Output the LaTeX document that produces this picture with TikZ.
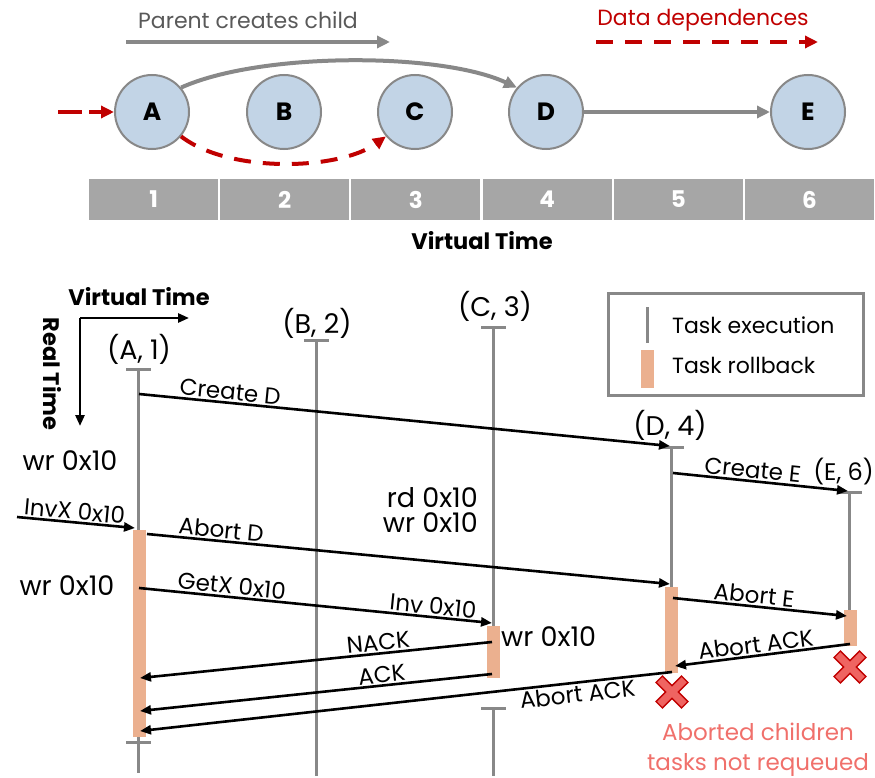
\documentclass[tikz,border=0pt]{standalone}
\usepackage{fontspec}
\setmainfont{Poppins}
\usetikzlibrary{arrows.meta}
\definecolor{lgray}{HTML}{888888}
\definecolor{dgray}{HTML}{595959}
\definecolor{cfill}{HTML}{C2D4E6}
\definecolor{rb}{HTML}{EBB08F}
\definecolor{dred}{HTML}{C00000}
\definecolor{xfill}{HTML}{EF6461}
\definecolor{salmon}{HTML}{F0706B}
\definecolor{barg}{HTML}{A6A6A6}
\tikzset{
  circ/.style={circle, draw=lgray, line width=2pt, fill=cfill, minimum size=74pt, inner sep=0pt, font=\fontsize{25}{27}\selectfont\bfseries},
  cell/.style={rectangle, fill=barg, draw=white, line width=2pt, minimum width=131pt, minimum height=43pt, inner sep=0pt, text=white, font=\fontsize{23}{25}\selectfont\bfseries},
  garrow/.style={draw=lgray, line width=4pt, -{Triangle[length=13pt,width=12pt]}},
  rarrow/.style={draw=dred, line width=4pt, dash pattern=on 17pt off 12pt, -{Triangle[length=13pt,width=12pt]}},
  life/.style={draw=lgray, line width=3pt},
  msg/.style={draw=black, line width=2.6pt, -{Triangle[length=11pt,width=9pt]}},
  lbl/.style={font=\fontsize{23}{25}\selectfont, sloped, inner sep=1.5pt},
  txt/.style={font=\fontsize{22}{24}\selectfont, inner sep=0pt},
  htxt/.style={font=\fontsize{27}{29}\selectfont, inner sep=0pt},
  btxt/.style={font=\fontsize{22.5}{24}\selectfont\bfseries, inner sep=0pt},
  xmark/.pic={\draw[fill=xfill, draw=dred, line width=1.3pt, rotate=45] (4.5,4.5) -- (4.5,18) -- (-4.5,18) -- (-4.5,4.5) -- (-18,4.5) -- (-18,-4.5) -- (-4.5,-4.5) -- (-4.5,-18) -- (4.5,-18) -- (4.5,-4.5) -- (18,-4.5) -- (18,4.5) -- cycle;}
}
\begin{document}
\begin{tikzpicture}[x=1pt,y=-1pt]
\useasboundingbox (0,0) rectangle (875,778);
% ---------- top legend ----------
\node[txt, text=dgray] (pcc) at (248,20) {Parent creates child};
\coordinate (pcs) at (126,42); \coordinate (pce) at (390,42);
\draw[garrow] (pcs) -- (pce);
\node[txt, text=dred] (dd) at (703,20) {Data dependences};
\coordinate (dds) at (596,42); \coordinate (dde) at (818,42);
\draw[rarrow] (dds) -- (dde);
% ---------- task graph ----------
\node[circ] (A) at (152,112) {A};
\node[circ] (B) at (284,112) {B};
\node[circ] (C) at (415,112) {C};
\node[circ] (D) at (546,112) {D};
\node[circ] (E) at (808,112) {E};
\coordinate (in) at (58,112);
\draw[rarrow, dash pattern=on 24pt off 7pt] (in) -- (A.west);
\draw[garrow] (A.40) .. controls (260,52) and (440,52) .. (D.140);
\draw[garrow] (D.east) -- (E.west);
\draw[rarrow] (A.-40) .. controls (230,174) and (340,170) .. (C.-140);
% ---------- time bar ----------
\node[cell] (t1) at (153.6,199.5) {1};
\node[cell] (t2) at (284.8,199.5) {2};
\node[cell] (t3) at (415.9,199.5) {3};
\node[cell] (t4) at (547.1,199.5) {4};
\node[cell] (t5) at (678.3,199.5) {5};
\node[cell] (t6) at (809.4,199.5) {6};
\node[btxt] (vt1) at (482,241) {Virtual Time};
% ---------- axes ----------
\node[btxt] (vt2) at (139,297) {Virtual Time};
\coordinate (ax) at (80,318); \coordinate (axh) at (189,318); \coordinate (axv) at (80,426);
\draw[msg] (ax) -- (axh);
\draw[msg] (ax) -- (axv);
\node[btxt, rotate=-90] (rt) at (52,374) {Real Time};
% ---------- legend ----------
\draw[draw=lgray, line width=3pt] (608,293) rectangle (863,395);
\draw[life] (647,307) -- (647,343);
\fill[rb] (641,350) rectangle (654,388);
\node[txt, anchor=west] (le1) at (672,325) {Task execution};
\node[txt, anchor=west] (le2) at (672,365) {Task rollback};
% ---------- lifelines ----------
\node[htxt] (la) at (139,349) {(A, 1)};
\node[htxt] (lb) at (317,323) {(B, 2)};
\node[htxt] (lc) at (495,306) {(C, 3)};
\node[htxt] (ld) at (670,425) {(D, 4)};
\node[htxt, font=\fontsize{24}{26}\selectfont, anchor=east] (le) at (874,472) {(E, 6)};
% A
\draw[life] (126,369) -- (151,369);
\draw[life] (138.5,369) -- (138.5,773);
\draw[life] (126,742) -- (151,742);
\fill[rb] (133,530) rectangle (146,737);
% B
\draw[life] (304,340) -- (329,340);
\draw[life] (316,340) -- (316,776);
% C
\draw[life] (481,327) -- (506,327);
\draw[life] (493.5,327) -- (493.5,626);
\fill[rb] (487,626) rectangle (499.5,678);
\draw[life] (481,708) -- (506,708);
\draw[life] (493.5,708) -- (493.5,776);
% D
\draw[life] (659,447) -- (684,447);
\draw[life] (671.5,447) -- (671.5,587);
\fill[rb] (665,587) rectangle (678,673);
% E
\draw[life] (837,492) -- (862,492);
\draw[life] (849.5,492) -- (849.5,610);
\fill[rb] (844,610) rectangle (857,646);
% ---------- side texts ----------
\node[htxt] (w1) at (70,461) {wr 0x10};
\node[htxt] (w2) at (67,586) {wr 0x10};
\node[htxt, anchor=east] (r3) at (478,498) {rd 0x10};
\node[htxt, anchor=east] (w3) at (478,523) {wr 0x10};
\node[htxt, anchor=west] (w4) at (501,637) {wr 0x10};
% ---------- messages ----------
\coordinate (a1) at (139,394); \coordinate (d0) at (670,446);
\coordinate (d1) at (673,473); \coordinate (e0) at (848,491);
\coordinate (x0) at (17,517);  \coordinate (a2) at (135,528);
\coordinate (a3) at (147,534); \coordinate (d2) at (670,584);
\coordinate (a4) at (139,588); \coordinate (c1) at (492,623);
\coordinate (c2) at (492,642); \coordinate (a5) at (140,678);
\coordinate (c3) at (492,674); \coordinate (a6) at (140,711);
\coordinate (d3) at (672,672); \coordinate (a7) at (140,731);
\coordinate (d4) at (673,598); \coordinate (e1) at (847,616);
\coordinate (e2) at (850,644); \coordinate (d5) at (675,666);
\draw[msg] (a1) -- node[lbl, pos=0.17, above] {Create D} (d0);
\draw[msg] (d1) -- node[lbl, pos=0.45, above] {Create E} (e0);
\draw[msg] (x0) -- node[lbl, pos=0.48, above] {InvX 0x10} (a2);
\draw[msg] (a3) -- node[lbl, pos=0.14, above] {Abort D} (d2);
\draw[msg] (a4) -- node[lbl, pos=0.26, above] {GetX 0x10} node[lbl, pos=0.83, above] {Inv 0x10} (c1);
\draw[msg] (c2) -- node[lbl, pos=0.32, above] {NACK} (a5);
\draw[msg] (c3) -- node[lbl, pos=0.31, above] {ACK} (a6);
\draw[msg] (d3) -- node[lbl, pos=0.18, below] {Abort ACK} (a7);
\draw[msg] (d4) -- node[lbl, pos=0.46, above] {Abort E} (e1);
\draw[msg] (e2) -- node[lbl, pos=0.53, above] {Abort ACK} (d5);
% ---------- aborted marks ----------
\pic at (672,692) {xmark};
\pic at (850,667) {xmark};
\node[txt, font=\fontsize{23}{25}\selectfont, text=salmon] (ab1) at (758,732) {Aborted children};
\node[txt, font=\fontsize{23}{25}\selectfont, text=salmon] (ab2) at (758,765) {tasks not requeued};
\end{tikzpicture}
\end{document}
